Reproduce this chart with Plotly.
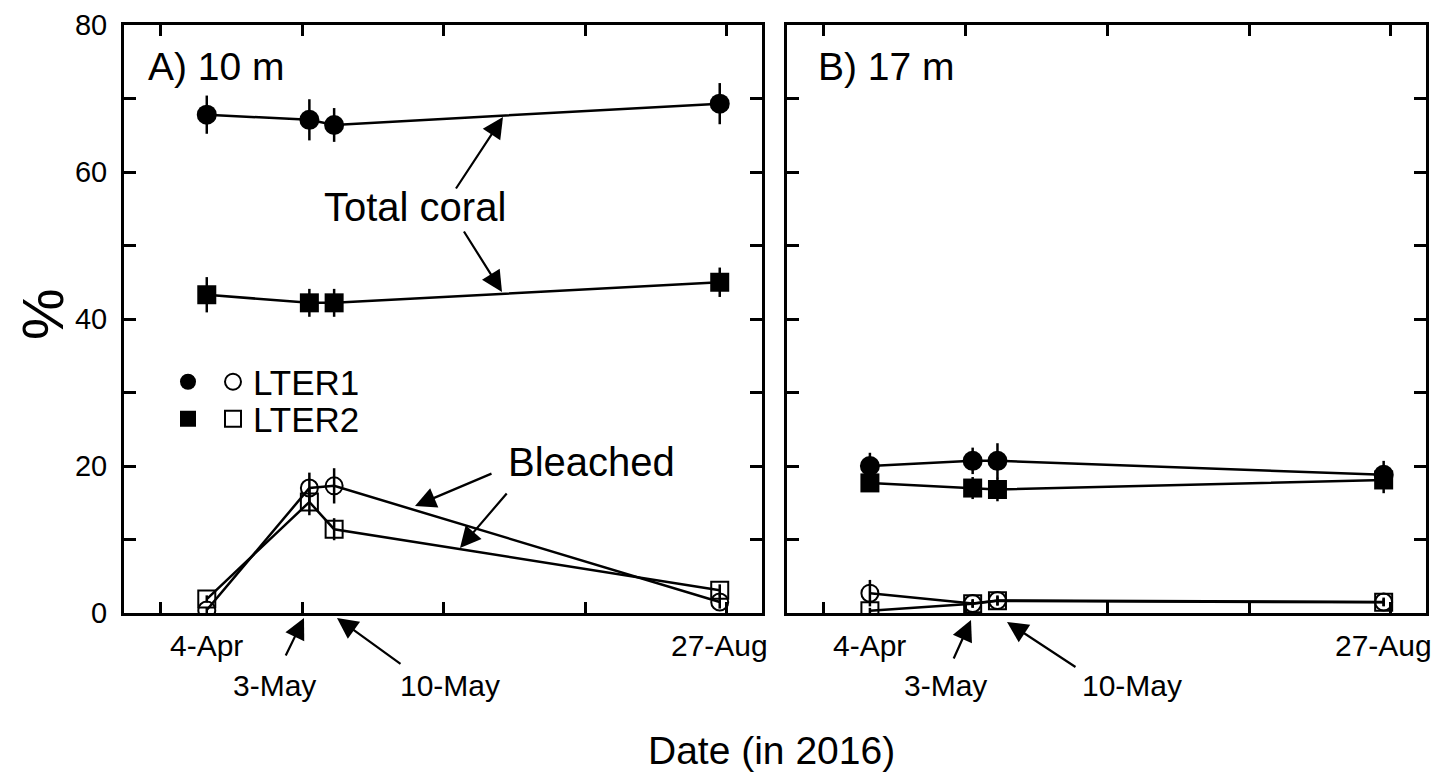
import plotly.graph_objects as go

# ---------------- data ----------------
dates = ["2016-04-04", "2016-05-03", "2016-05-10", "2016-08-27"]
date_labels = ["4-Apr", "3-May", "10-May", "27-Aug"]

# Panel A (10 m)
a_total_lter1 = [67.8, 67.1, 66.4, 69.3]
a_total_lter1_err = [2.6, 2.8, 2.3, 2.8]
a_total_lter2 = [43.3, 42.2, 42.2, 45.0]
a_total_lter2_err = [2.4, 1.9, 1.9, 2.0]
a_bleach_lter1 = [0.4, 17.0, 17.3, 1.5]
a_bleach_lter1_err = [0.4, 2.1, 2.4, 0.9]
a_bleach_lter2 = [1.9, 15.1, 11.4, 3.1]
a_bleach_lter2_err = [0.5, 1.8, 1.5, 0.8]

# Panel B (17 m)
b_total_lter1 = [20.0, 20.7, 20.7, 18.8]
b_total_lter1_err = [1.8, 1.8, 2.4, 1.9]
b_total_lter2 = [17.7, 17.0, 16.8, 18.1]
b_total_lter2_err = [1.2, 1.5, 1.6, 1.8]
b_bleach_lter1 = [2.7, 1.3, 1.7, 1.5]
b_bleach_lter1_err = [1.8, 0.6, 0.7, 0.6]
b_bleach_lter2 = [0.3, 1.25, 1.65, 1.45]
b_bleach_lter2_err = [0.4, 0.5, 0.6, 0.5]

y_tickvals = [0, 10, 20, 30, 40, 50, 60, 70, 80]
y_ticktext = ["0", "", "20", "", "40", "", "60", "", "80"]
series_names = ["LTER1", "LTER2"]

# ---------------- layout helpers ----------------
W, H = 1452, 776
OFF = 8  # page body margin in the browser
FONT = "Liberation Sans, Arial, Helvetica, sans-serif"


def px(x):
    return (x - OFF) / W


def py(y):
    return 1 - (y - OFF) / H


styles = {
    "total1": dict(symbol="circle", size=20, color="black", line=dict(width=0)),
    "total2": dict(symbol="square", size=19, color="black", line=dict(width=0)),
    "bleach1": dict(symbol="circle-open", size=17, color="black", line=dict(width=2, color="black")),
    "bleach2": dict(symbol="square-open", size=17, color="black", line=dict(width=2, color="black")),
}

panels = [
    ("x", "y", [(a_total_lter1, a_total_lter1_err, "total1"),
                (a_total_lter2, a_total_lter2_err, "total2"),
                (a_bleach_lter1, a_bleach_lter1_err, "bleach1"),
                (a_bleach_lter2, a_bleach_lter2_err, "bleach2")]),
    ("x2", "y2", [(b_total_lter1, b_total_lter1_err, "total1"),
                  (b_total_lter2, b_total_lter2_err, "total2"),
                  (b_bleach_lter1, b_bleach_lter1_err, "bleach1"),
                  (b_bleach_lter2, b_bleach_lter2_err, "bleach2")]),
]

fig = go.Figure()
for xa, ya, series in panels:
    for vals, errs, key in series:
        fig.add_trace(go.Scatter(
            x=dates, y=vals, xaxis=xa, yaxis=ya, mode="lines+markers",
            line=dict(color="black", width=2.5),
            marker=styles[key],
            error_y=dict(type="data", array=errs, visible=True, color="black",
                         thickness=2.5, width=0),
            showlegend=False, hoverinfo="x+y",
        ))

# legend entries (two rows: filled + open symbol per site)
for key_f, key_o, name, lg in [("total1", "bleach1", series_names[0], "legend"),
                               ("total2", "bleach2", series_names[1], "legend2")]:
    fig.add_trace(go.Scatter(x=[None], y=[None], mode="markers", marker=styles[key_f],
                             name="", legend=lg, showlegend=True))
    fig.add_trace(go.Scatter(x=[None], y=[None], mode="markers", marker=styles[key_o],
                             name=name, legend=lg, showlegend=True))

x_range = ["2016-03-11 14:24", "2016-09-07 22:48"]
axis_common = dict(showline=True, linewidth=3, linecolor="black", mirror="allticks",
                   ticks="inside", tickcolor="black", tickwidth=2.5,
                   showgrid=False, zeroline=False, automargin=False)
xcommon = dict(axis_common, type="date", range=x_range, tick0="2016-03-22",
               dtick=40 * 86400000, ticklen=11, showticklabels=False)
ycommon = dict(axis_common, range=[0, 80], tickvals=y_tickvals, ticktext=y_ticktext,
               ticklen=12, tickfont=dict(size=29, color="black", family=FONT))

y_dom = [py(613), py(25)]
legend_common = dict(orientation="h", xanchor="left", yanchor="middle",
                     font=dict(size=35, color="black", family=FONT),
                     bgcolor="rgba(0,0,0,0)", borderwidth=0, itemclick=False,
                     itemdoubleclick=False, traceorder="normal")

fig.update_layout(
    width=W, height=H, margin=dict(l=0, r=0, t=0, b=0, autoexpand=False),
    paper_bgcolor="white", plot_bgcolor="white",
    font=dict(family=FONT, color="black"),
    xaxis=dict(xcommon, domain=[px(124), px(762)], anchor="y"),
    yaxis=dict(ycommon, domain=y_dom, anchor="x", ticklabelstandoff=8),
    xaxis2=dict(xcommon, domain=[px(787), px(1426)], anchor="y2"),
    yaxis2=dict(ycommon, domain=y_dom, anchor="x2", showticklabels=False),
    legend=dict(legend_common, x=px(168), y=py(382)),
    legend2=dict(legend_common, x=px(168), y=py(419)),
    showlegend=True,
)

annotations = []


def label(text, x, y, size, xanchor="center", **kw):
    annotations.append(dict(text=text, x=px(x), y=py(y), xref="paper", yref="paper",
                            showarrow=False, xanchor=xanchor, yanchor="middle",
                            font=dict(size=size, color="black", family=FONT), **kw))


def arrow(tail, tip):
    annotations.append(dict(text="", x=px(tip[0]), y=py(tip[1]), xref="paper", yref="paper",
                            ax=tail[0] - tip[0], ay=tail[1] - tip[1],
                            axref="pixel", ayref="pixel", showarrow=True,
                            arrowhead=2, arrowsize=1.9, arrowwidth=2.2,
                            arrowcolor="black", standoff=0, startstandoff=0))


# panel titles and text labels
label("A) 10 m", 146, 67, 39, xanchor="left")
label("B) 17 m", 816, 67, 39, xanchor="left")
label("Total coral", 415, 207, 40)
label("Bleached", 591, 462, 40)
label("%", 43, 314, 58, textangle=-90)
label("Date (in 2016)", 771, 750, 39)

# date labels on the x axes (first and last sampling dates at data positions)
for xa in ["x", "x2"]:
    for i in [0, 3]:
        annotations.append(dict(text=date_labels[i], x=dates[i], y=py(645), xref=xa,
                                yref="paper", showarrow=False, xanchor="center",
                                yanchor="middle",
                                font=dict(size=30, color="black", family=FONT)))

label(date_labels[1], 274, 685, 30)
label(date_labels[2], 450, 685, 30)
label(date_labels[1], 945, 685, 30)
label(date_labels[2], 1132, 685, 30)

# arrows
arrow((455, 190), (503, 117))
arrow((463, 230), (502, 292))
arrow((493, 473), (415, 506))
arrow((508, 492), (460, 548))
arrow((285, 657), (304, 618))
arrow((402, 665), (337, 618))
arrow((953, 660), (971, 620))
arrow((1077, 668), (1007, 622))

fig.update_layout(annotations=annotations)
fig.write_html("out.html")
